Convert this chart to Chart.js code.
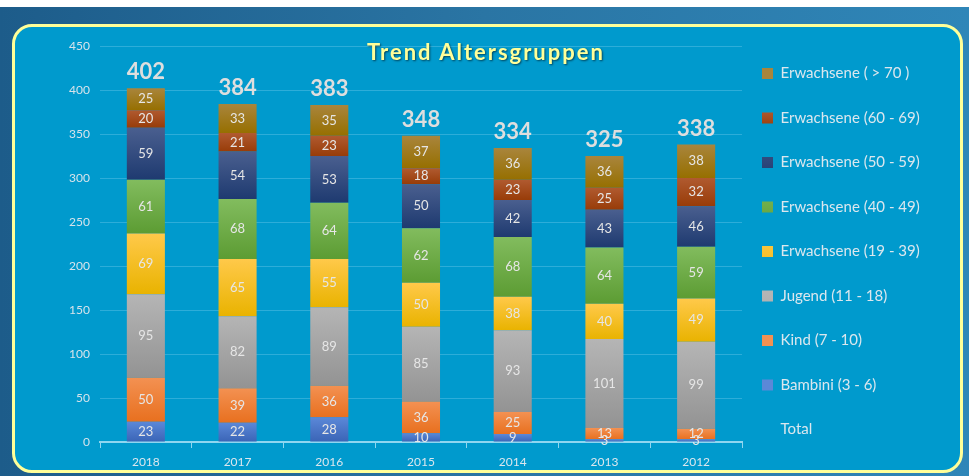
<!DOCTYPE html>
<html>
<head>
<meta charset="utf-8">
<script src="https://cdn.jsdelivr.net/npm/chart.js@4.4.1/dist/chart.umd.min.js"></script>
<style>
  html, body { margin: 0; padding: 0; width: 969px; height: 476px; overflow: hidden; background: #fff; }
  .outer { position: absolute; left: 0; top: 7px; width: 969px; height: 469px;
    background: linear-gradient(to right, #1d5c8a, #2a75a4 50%, #2f86b8); }
  .panel { position: absolute; left: 12px; top: 24px; width: 945px; height: 443px;
    border: 3px solid #ffff99; border-radius: 20px; background: #009acd; }
  #title { position: absolute; left: 0; top: 38px; width: 972px; text-align: center;
    font: bold 22px Lato, "Open Sans", sans-serif; color: #ffff99; letter-spacing: 2px;
    text-shadow: 1px 1px 2px rgba(0,0,0,0.55); }
  .wrap { position: absolute; left: 0; top: 0; width: 969px; height: 476px; }
</style>
</head>
<body>
<div class="outer"></div>
<div class="panel"></div>
<div class="wrap"><canvas id="trendChart"></canvas></div>
<div id="title">Trend Altersgruppen</div>
<script>
// Daten
const years = ['2018', '2017', '2016', '2015', '2014', '2013', '2012'];
const bambini = [23, 22, 28, 10, 9, 3, 3];
const kind = [50, 39, 36, 36, 25, 13, 12];
const jugend = [95, 82, 89, 85, 93, 101, 99];
const erw19 = [69, 65, 55, 50, 38, 40, 49];
const erw40 = [61, 68, 64, 62, 68, 64, 59];
const erw50 = [59, 54, 53, 50, 42, 43, 46];
const erw60 = [20, 21, 23, 18, 23, 25, 32];
const erw70 = [25, 33, 35, 37, 36, 36, 38];
const totals = [402, 384, 383, 348, 334, 325, 338];

const groups = [bambini, kind, jugend, erw19, erw40, erw50, erw60, erw70];

Chart.defaults.font.family = 'Lato, "Open Sans", sans-serif';

// vertical gradient per segment (light top, dark bottom)
function segColor(base, light, dark) {
  return function(ctx) {
    const chart = ctx.chart;
    if (ctx.type !== 'data' || !chart.chartArea) return base;
    const y = chart.scales.y;
    let start = 0;
    for (let k = 0; k < ctx.datasetIndex; k++) start += groups[k][ctx.dataIndex];
    const y0 = y.getPixelForValue(start);
    const y1 = y.getPixelForValue(start + groups[ctx.datasetIndex][ctx.dataIndex]);
    const g = chart.ctx.createLinearGradient(0, y1, 0, y0);
    g.addColorStop(0, light);
    g.addColorStop(1, dark);
    return g;
  };
}

function barSet(label, data, base, light, dark) {
  return {
    label: label,
    data: data,
    backgroundColor: segColor(base, light, dark),
    borderWidth: 0
  };
}

// Beschriftungen in den Balken und Summen darüber
const labelPlugin = {
  id: 'barLabels',
  afterDatasetsDraw(chart) {
    const c = chart.ctx;
    c.save();
    c.textAlign = 'center';
    c.textBaseline = 'middle';
    chart.data.datasets.forEach((ds, i) => {
      const meta = chart.getDatasetMeta(i);
      meta.data.forEach((el, j) => {
        if (ds.type === 'line') {
          c.font = 'bold 22px Lato, "Open Sans", sans-serif';
          c.fillStyle = '#dedede';
          c.fillText(ds.data[j], el.x, el.y - 16);
        } else {
          c.font = '13px Lato, "Open Sans", sans-serif';
          c.fillStyle = '#e6e6e6';
          c.fillText(ds.data[j], el.x, (el.y + el.base) / 2);
        }
      });
    });
    c.restore();
  }
};

// Legende etwas nach rechts/unten schieben, Platz bis zum Rand
const legendShift = {
  id: 'legendShift',
  afterLayout(chart) {
    const lg = chart.legend;
    if (!lg) return;
    lg.left += 10;
    lg.right = chart.width;
    lg.top += 10;
    lg.bottom += 10;
  }
};

const ctx = document.getElementById('trendChart').getContext('2d');
new Chart(ctx, {
  type: 'bar',
  data: {
    labels: years,
    datasets: [
      barSet('Bambini (3 - 6)', bambini, '#4472c4', '#5b88d8', '#3a64b6'),
      barSet('Kind (7 - 10)', kind, '#ef7a2c', '#f39152', '#e8701f'),
      barSet('Jugend (11 - 18)', jugend, '#a6a6a6', '#b5b5b5', '#939393'),
      barSet('Erwachsene (19 - 39)', erw19, '#ffc000', '#ffc94a', '#e9b300'),
      barSet('Erwachsene (40 - 49)', erw40, '#6aa843', '#82bc5e', '#5c9c33'),
      barSet('Erwachsene (50 - 59)', erw50, '#253f74', '#4a5f8f', '#1e3a70'),
      barSet('Erwachsene (60 - 69)', erw60, '#a0450e', '#b05a30', '#983c08'),
      barSet('Erwachsene ( > 70 )', erw70, '#9c7308', '#a9853c', '#966f00'),
      {
        type: 'line',
        label: 'Total',
        data: totals,
        showLine: false,
        pointRadius: 0,
        borderColor: 'transparent',
        backgroundColor: 'transparent'
      }
    ]
  },
  options: {
    responsive: true,
    maintainAspectRatio: false,
    animation: false,
    layout: { padding: { top: 46, right: 77, bottom: 0, left: 0 } },
    datasets: {
      bar: { categoryPercentage: 1, barPercentage: 0.415 }
    },
    plugins: {
      tooltip: { enabled: false },
      title: { display: false },
      legend: {
        position: 'right',
        align: 'start',
        maxWidth: 150,
        labels: {
          color: '#dbe7ee',
          boxWidth: 11,
          boxHeight: 11,
          padding: 10,
          font: { size: 15, lineHeight: '34.5px' },
          generateLabels(chart) {
            const items = Chart.defaults.plugins.legend.labels.generateLabels(chart);
            items.forEach(it => {
              it.lineWidth = 0;
              if (it.text !== 'Total') it.text = [it.text];
            });
            return items;
          },
          sort(a, b) {
            const r = it => (it.text === 'Total' ? 99 : -it.datasetIndex);
            return r(a) - r(b);
          }
        }
      }
    },
    scales: {
      x: {
        stacked: true,
        grid: { display: true, drawOnChartArea: false, offset: true, tickLength: 6, color: '#8fd6f0' },
        border: { color: '#8fd6f0', width: 2 },
        ticks: { color: '#dbe7ee', font: { size: 12 }, padding: 7 },
        afterFit(s) { s.height = 34; }
      },
      y: {
        stacked: true,
        min: 0,
        max: 450,
        ticks: { stepSize: 50, color: '#d6e3eb', font: { size: 12 }, padding: 10 },
        grid: { color: 'rgba(130,210,240,0.35)', drawTicks: false },
        border: { display: false },
        afterFit(s) { s.width = 100; }
      }
    }
  },
  plugins: [labelPlugin, legendShift]
});
</script>
</body>
</html>
